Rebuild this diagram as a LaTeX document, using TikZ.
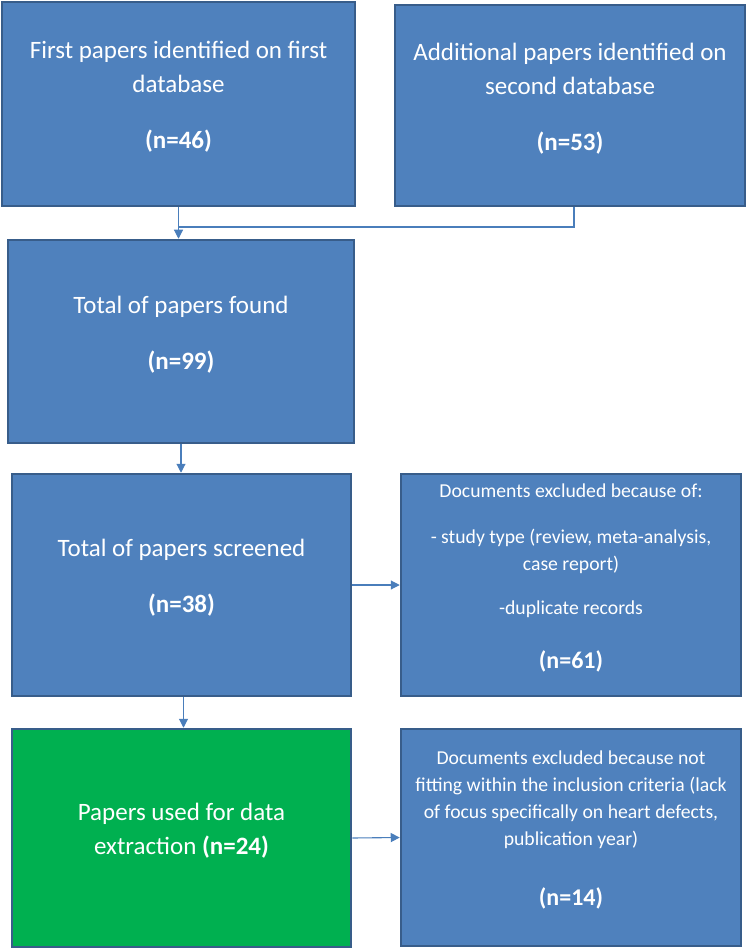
\documentclass[tikz,border=0pt]{standalone}
\usepackage{fontspec}
\setmainfont{Carlito}
\usetikzlibrary{arrows.meta}

\definecolor{boxblue}{HTML}{4F81BD}
\definecolor{boxedge}{HTML}{385D8A}
\definecolor{boxgreen}{HTML}{00B050}
\definecolor{linkblue}{HTML}{4A7EBB}

\tikzset{
    stagebox/.style={draw=boxedge, line width=2.5pt, fill=boxblue, text=white,
        align=center, inner sep=4pt, text depth=18pt},
    bigtext/.style={font=\fontsize{25}{34}\selectfont},
    smalltext/.style={font=\fontsize{19.7}{27}\selectfont},
    link/.style={draw=linkblue, line width=1.1pt},
    linkarrow/.style={link, -{Triangle[length=9pt,width=9pt]}}
}

\begin{document}
\begin{tikzpicture}[x=1pt,y=-1pt]
    \useasboundingbox (0,0) rectangle (749,949);

    % Identification
    \node[stagebox, bigtext, minimum width=353pt, minimum height=204pt] (first) at (178.5,104)
        {First papers identified on first\\ database\\[22pt] \textbf{(n=46)}};
    \node[stagebox, bigtext, minimum width=350pt, minimum height=201pt] (second) at (570,105.5)
        {Additional papers identified on\\ second database\\[22pt] \textbf{(n=53)}};

    % Screening
    \node[stagebox, bigtext, minimum width=346pt, minimum height=203pt] (found) at (181,341.5)
        {Total of papers found\\[22pt] \textbf{(n=99)}};
    \node[stagebox, bigtext, minimum width=339pt, minimum height=222pt] (screened) at (181.5,585)
        {Total of papers screened\\[22pt] \textbf{(n=38)}};
    \node[stagebox, smalltext, minimum width=340pt, minimum height=222pt] (excl1) at (571,585)
        {Documents excluded because of:\\[19pt]
         - study type (review, meta-analysis,\\ case report)\\[17pt]
         -duplicate records\\[27pt]
         {\fontsize{24}{27}\selectfont\textbf{(n=61)}}};

    % Included
    \node[stagebox, bigtext, fill=boxgreen, minimum width=339pt, minimum height=218pt] (used) at (181.5,838)
        {Papers used for data\\ extraction \textbf{(n=24)}};
    \node[stagebox, smalltext, minimum width=340pt, minimum height=217pt] (excl2) at (571,837.5)
        {Documents excluded because not\\ fitting within the inclusion criteria (lack\\
         of focus specifically on heart defects,\\ publication year)\\[33pt]
         {\fontsize{24}{27}\selectfont\textbf{(n=14)}}};

    % Connectors
    \coordinate (merge) at (179,227);
    \draw[link] ([xshift=4pt]second.south) |- (merge);
    \draw[linkarrow] (first.south) -- (first.south |- found.north);
    \draw[linkarrow] (found.south) -- (found.south |- screened.north);
    \draw[linkarrow] ([xshift=2pt]screened.south) -- ([xshift=2pt]screened.south |- used.north);
    \draw[linkarrow] (screened.east) -- (excl1.west);
    \draw[linkarrow] (used.east) -- (excl2.west);
\end{tikzpicture}
\end{document}
